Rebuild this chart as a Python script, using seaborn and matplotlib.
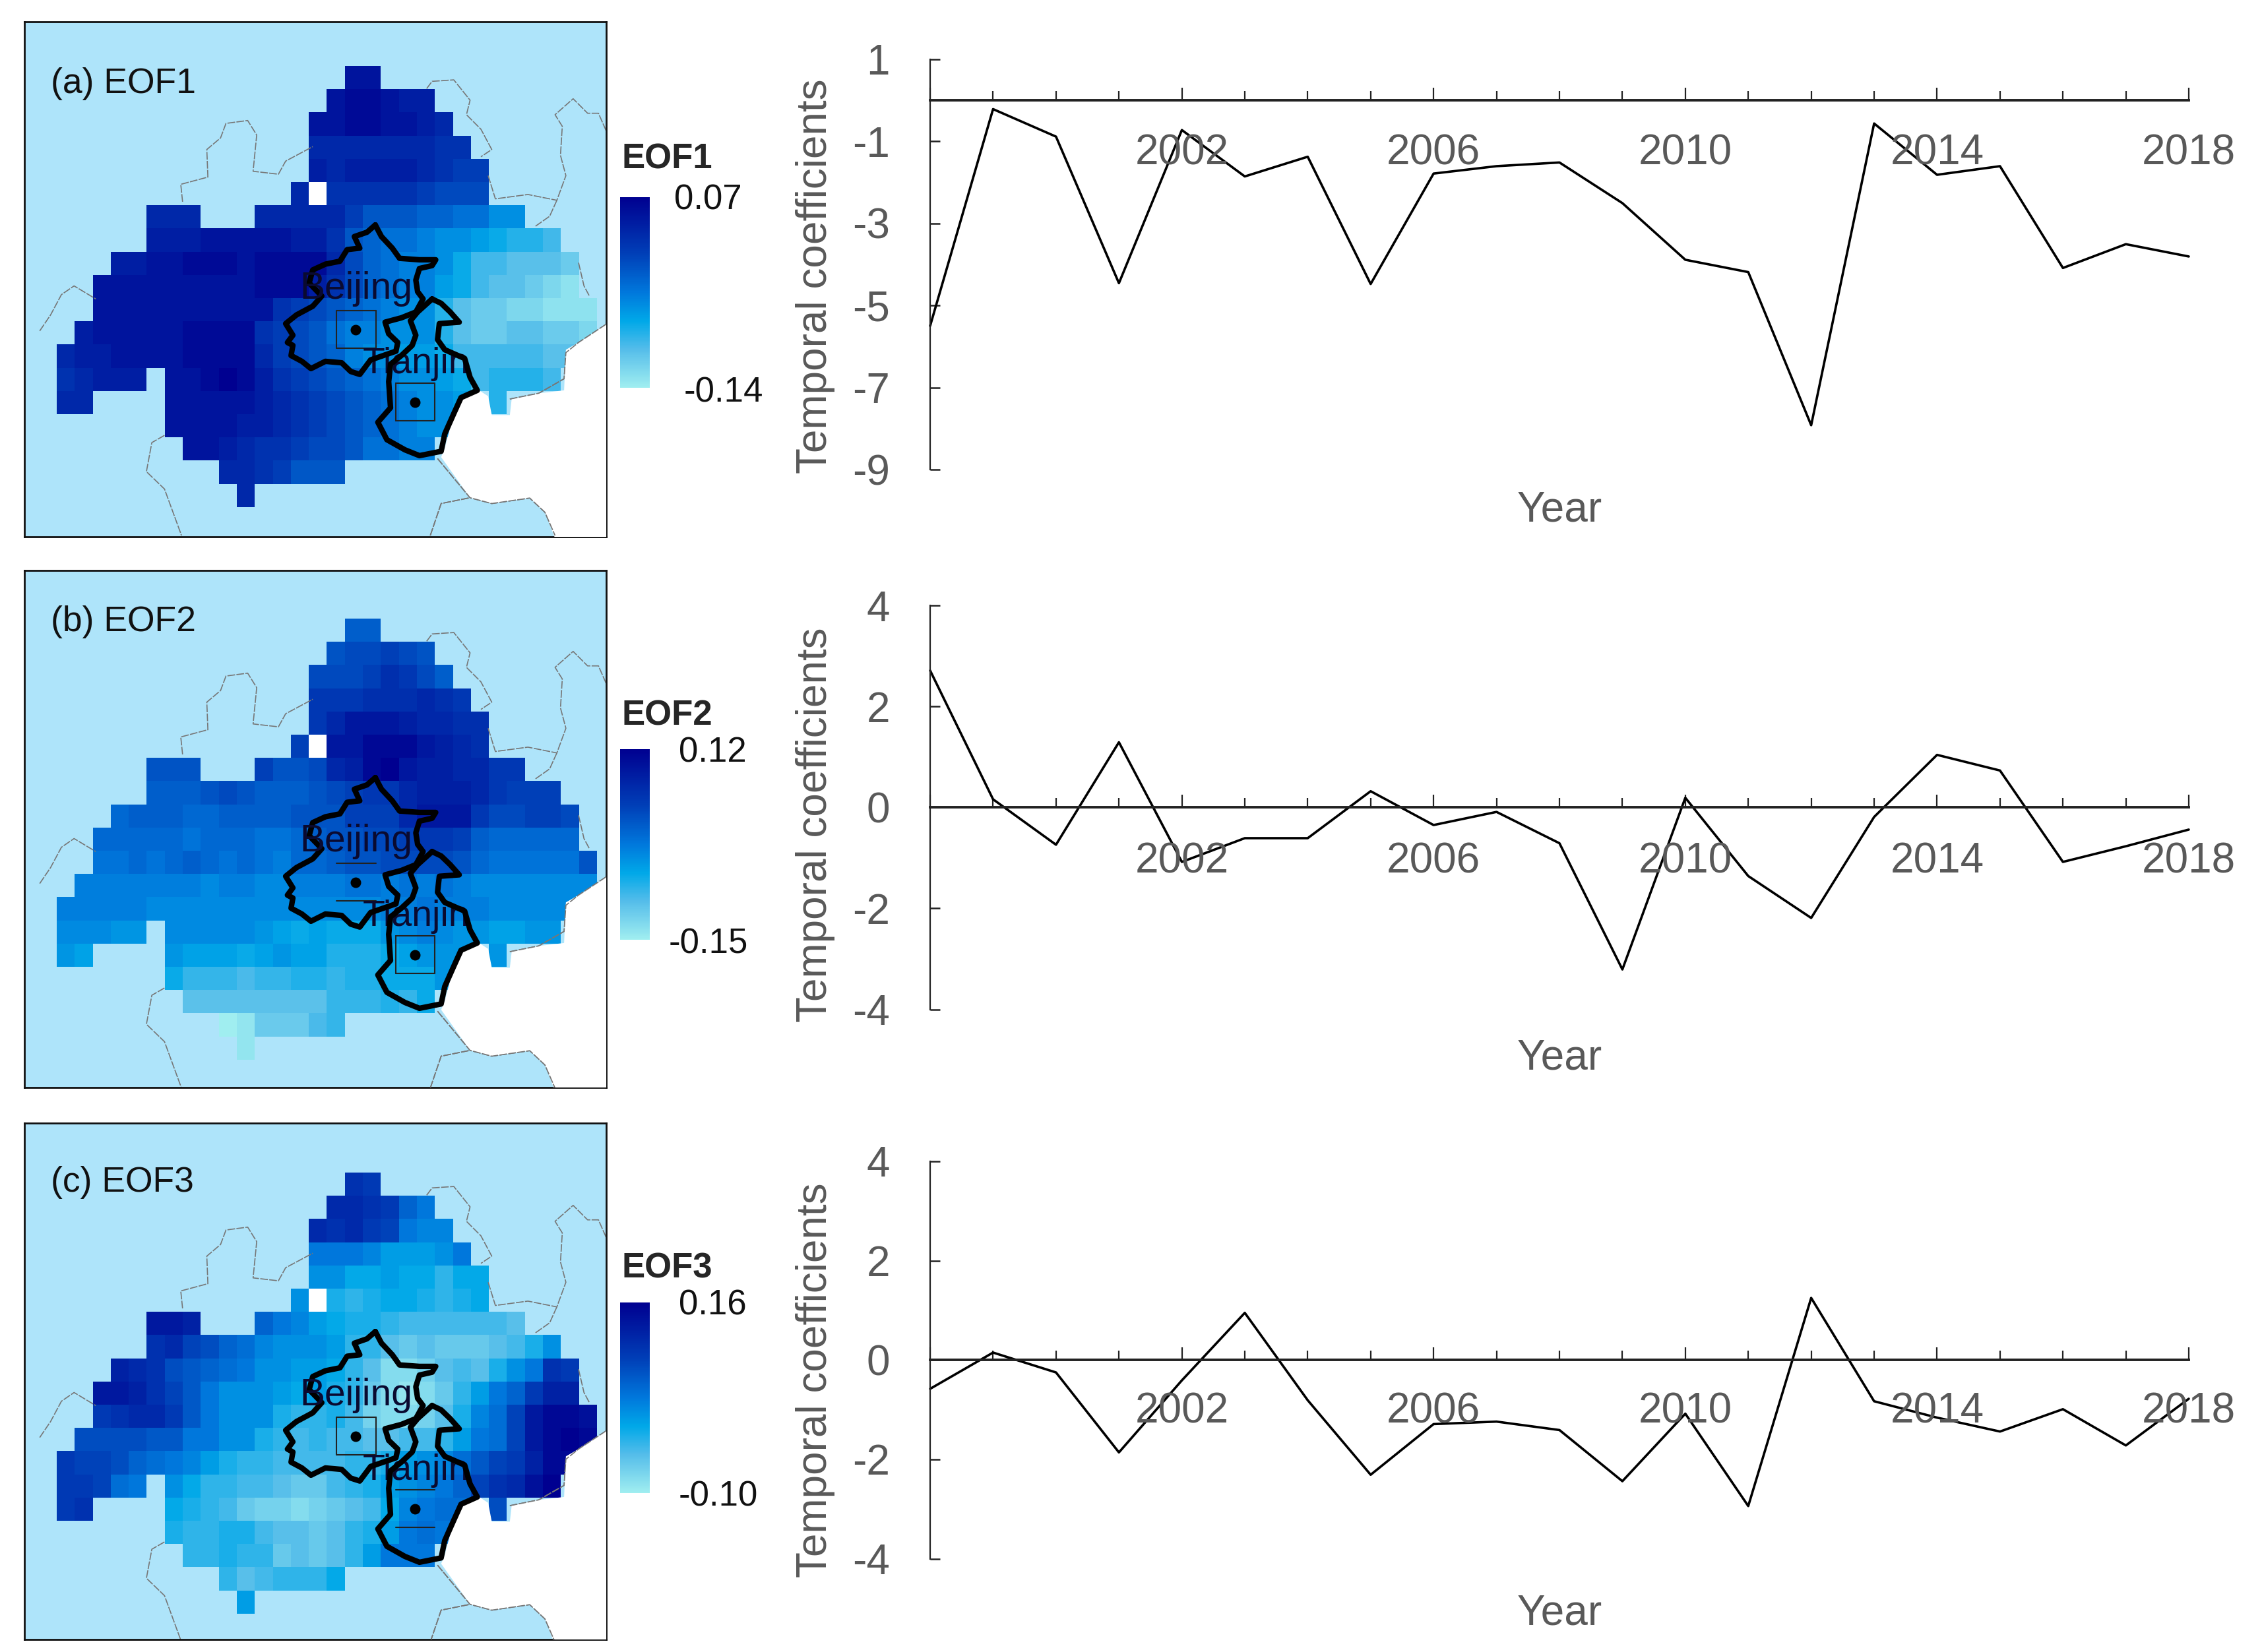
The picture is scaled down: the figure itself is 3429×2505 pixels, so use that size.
import numpy as np
import seaborn as sns
import matplotlib.pyplot as plt
from matplotlib.colors import LinearSegmentedColormap
from matplotlib.patches import Rectangle

W, H = 3430, 2505

# Temporal coefficients
years = list(range(1998, 2019))
pc1 = [-5.5, -0.22, -0.89, -4.46, -0.73, -1.86, -1.38, -4.48, -1.79, -1.61, -1.52,
       -2.51, -3.89, -4.19, -7.92, -0.57, -1.82, -1.61, -4.09, -3.51, -3.81]
pc2 = [2.71, 0.16, -0.74, 1.29, -1.08, -0.61, -0.61, 0.32, -0.35, -0.09, -0.71,
       -3.21, 0.19, -1.36, -2.19, -0.19, 1.04, 0.73, -1.08, -0.77, -0.44]
pc3 = [-0.58, 0.15, -0.25, -1.86, -0.41, 0.95, -0.81, -2.31, -1.29, -1.24, -1.41,
       -2.44, -1.08, -2.94, 1.25, -0.83, -1.16, -1.44, -0.99, -1.72, -0.78]

# EOF grids, hundredths, one list per row. First column of every row is in row_start
row_start = [16, 15, 14, 14, 14, 13, 5, 5, 3, 2, 2, 1, 0, 0, 0, 6, 7, 9, 10]
_ = None

eof1 = [
    [5, 5],
    [5, 6, 6, 5, 4, 4],
    [5, 5, 6, 6, 5, 5, 4, 3],
    [3, 3, 3, 3, 3, 3, 3, 2, 2],
    [4, 3, 4, 4, 4, 4, 3, 2, 1, 1],
    [3, _, 2, 2, 2, 2, 2, 1, 0, 0, 0],
    [3, 3, 3, _, _, _, 3, 3, 3, 3, 3, 1, -1, -1, -1, -2, -2, -3, -3, -5, -5],
    [4, 4, 4, 5, 5, 5, 5, 5, 4, 4, 2, -1, -2, -3, -3, -4, -5, -5, -6, -7, -8, -8, -9],
    [4, 4, 5, 5, 6, 6, 6, 5, 6, 6, 6, 6, 3, 0, -2, -3, -4, -4, -5, -7, -9, -9, -10, -10, -10, -11],
    [5, 5, 5, 5, 5, 5, 5, 5, 5, 6, 6, 6, 4, 2, 0, -2, -3, -4, -4, -6, -7, -9, -10, -10, -11, -12, -13],
    [5, 5, 5, 5, 5, 5, 5, 5, 5, 5, 2, 1, 0, -1, -2, -3, -4, -5, -5, -8, -10, -11, -11, -12, -12, -13, -13, -13],
    [4, 5, 5, 5, 5, 5, 6, 6, 6, 6, 2, 1, 0, -1, -3, -4, -4, -5, -5, -5, -8, -10, -11, -11, -10, -10, -11, -11, -12],
    [3, 4, 4, 5, 5, 5, 5, 6, 6, 6, 6, 3, 1, 0, -1, -2, -4, -5, -5, -6, -6, -7, -9, -9, -9, -9, -9, -10, -10],
    [2, 3, 4, 4, 4, _, 5, 5, 6, 7, 6, 4, 2, 1, 0, -1, -2, -3, -4, -5, -5, -6, -7, -9, -8, -8, -8, -9],
    [3, 3, _, _, _, _, 5, 5, 5, 5, 5, 4, 3, 2, 1, 0, -1, -2, -3, -4, -5, -5, -6, _, -8],
    [5, 5, 5, 5, 4, 4, 3, 2, 1, 0, -1, -2, -3, -4, -5, -5],
    [5, 5, 4, 3, 2, 2, 1, 0, 0, -1, -3, -3, -4, -4],
    [3, 3, 2, 1, -1, -1, -1],
    [3],
]

eof2 = [
    [1, 1],
    [2, 3, 3, 4, 3, 2],
    [3, 3, 3, 4, 6, 5, 3, 1],
    [5, 5, 5, 6, 6, 6, 7, 6, 5],
    [5, 7, 9, 9, 9, 8, 7, 7, 6, 6],
    [4, _, 9, 9, 11, 11, 11, 9, 8, 7, 6],
    [2, 2, 2, _, _, _, 4, 2, 2, 3, 7, 8, 11, 12, 9, 8, 8, 7, 7, 5, 5],
    [1, 1, 1, 2, 3, 2, 1, 1, 1, 2, 3, 4, 5, 5, 7, 8, 8, 8, 7, 5, 4, 4, 4],
    [0, 1, 1, 1, 0, 0, 1, 1, 1, 1, 2, 2, 2, 4, 4, 4, 7, 9, 9, 9, 5, 3, 3, 4, 4, 3],
    [0, 0, 0, 0, 0, -1, 0, 0, 0, -1, -1, 0, 1, 2, 2, 3, 3, 4, 5, 5, 4, 1, 0, 0, 0, 0, 0],
    [-1, -1, 0, -1, 0, 1, 0, -1, 0, -1, -2, 0, 0, 1, 2, 2, 3, 3, 3, 3, 2, 0, -1, -1, -1, -1, -1, 2],
    [-2, -2, -2, -2, -2, -2, -2, -3, -2, -2, -3, -3, -2, -2, -2, -1, -1, -2, -1, -2, -1, -2, -3, -3, -3, -3, -3, -3, -3],
    [-2, -2, -2, -2, -2, -3, -3, -3, -3, -3, -3, -3, -3, -3, -3, -3, -3, -3, -2, -2, -1, -2, -2, -2, -3, -3, -3, -3, -3],
    [-3, -3, -3, -4, -4, _, -3, -3, -3, -3, -3, -4, -5, -6, -5, -6, -6, -6, -4, -3, -2, -3, -4, -4, -5, -5, -4, -4],
    [-4, -5, _, _, _, _, -4, -5, -5, -5, -6, -5, -4, -5, -5, -7, -7, -7, -6, -5, -4, -4, -4, _, -4],
    [-6, -8, -8, -8, -9, -8, -8, -7, -7, -8, -7, -7, -6, -6, -6, -4],
    [-10, -10, -10, -10, -10, -10, -10, -10, -8, -8, -8, -7, -8, -6],
    [-15, -14, -11, -11, -11, -9, -8],
    [-14],
]

eof3 = [
    [10, 9],
    [11, 11, 10, 9, 5, 3],
    [11, 10, 11, 9, 8, 3, 2, 2],
    [3, 3, 3, 2, 0, 0, 0, 1, 3],
    [1, 1, -1, -1, 0, -1, -1, -3, -1, -1],
    [1, _, -2, -3, -2, -1, -1, -2, -3, -2, -1],
    [13, 13, 12, _, _, _, 5, 3, 2, 0, -1, -2, -2, -3, -4, -4, -4, -4, -4, -4, -5],
    [10, 11, 8, 7, 5, 4, 2, 1, 1, 1, 0, -3, -3, -5, -6, -5, -6, -6, -6, -5, -4, -2, 1],
    [12, 11, 10, 7, 6, 5, 4, 3, 1, 1, 0, 0, -1, -3, -5, -8, -8, -7, -5, -4, -5, -2, 1, 3, 10, 9],
    [13, 13, 12, 10, 8, 6, 3, 1, 1, 1, 0, -1, 0, -2, -3, -6, -8, -9, -8, -6, -3, 0, 3, 5, 9, 12, 12],
    [9, 10, 11, 11, 9, 6, 3, 1, 1, 1, -2, -3, -3, -2, -4, -7, -8, -8, -7, -5, -2, 2, 4, 8, 13, 15, 15, 14],
    [7, 7, 7, 7, 6, 6, 3, 3, 1, 1, -2, -3, -4, -3, -4, -4, -5, -5, -4, -4, -3, 0, 3, 4, 8, 13, 15, 16, 15],
    [9, 8, 8, 7, 5, 4, 3, 2, 0, -2, -3, -3, -4, -4, -4, -4, -3, -3, -2, 0, 1, 2, 4, 6, 8, 9, 12, 15, 15],
    [9, 9, 8, 4, 3, _, 1, -1, -3, -3, -4, -4, -5, -6, -6, -4, -3, -2, 0, 1, 2, 3, 5, 8, 10, 11, 14, 16],
    [9, 10, _, _, _, _, -1, -2, -3, -4, -6, -7, -7, -8, -7, -6, -5, -4, -1, 2, 3, 4, 4, _, 7],
    [-2, -3, -3, -2, -2, -4, -5, -5, -6, -5, -3, -2, 0, 3, 4, 3],
    [-3, -3, -2, -3, -3, -6, -5, -6, -5, -3, 0, 3, 3, 3],
    [-3, -5, -4, -3, -3, -3, -1],
    [0],
]

eof_ranges = [(-0.14, 0.07), (-0.15, 0.12), (-0.10, 0.16)]
eof_names = ['EOF1', 'EOF2', 'EOF3']
panel_titles = ['(a) EOF1', '(b) EOF2', '(c) EOF3']

# Outlines, in pixels of one crop (see to_grid)
beijing = [(928, 570), (945, 610), (975, 650), (995, 685), (1050, 690), (1095, 690), (1085, 710), (1050, 720),
           (1040, 760), (1045, 800), (1060, 825), (1040, 870), (1000, 890), (955, 905), (965, 945), (990, 975),
           (985, 1005), (950, 1020), (915, 1035), (885, 1085), (860, 1075), (835, 1045), (790, 1040), (750, 1065),
           (725, 1040), (695, 1020), (700, 985), (685, 975), (700, 950), (680, 910), (710, 880), (755, 850),
           (780, 815), (745, 770), (755, 725), (790, 705), (830, 695), (850, 655), (885, 650), (870, 610),
           (905, 595), (928, 570)]
tianjin = [(1085, 825), (1110, 840), (1135, 870), (1160, 905), (1105, 910), (1100, 965), (1120, 1000), (1175, 1030),
           (1190, 1095), (1210, 1140), (1165, 1165), (1145, 1220), (1120, 1290), (1110, 1350), (1050, 1365),
           (1010, 1345), (960, 1310), (935, 1250), (970, 1200), (965, 1110), (970, 1050), (1000, 1020), (1030, 985),
           (1040, 950), (1025, 900), (1045, 870), (1085, 825)]
sea = [(1575, 905), (1490, 975), (1455, 1000), (1450, 1140), (1380, 1150), (1305, 1170), (1300, 1225), (1250, 1225),
       (1240, 1160), (1215, 1140), (1165, 1165), (1145, 1220), (1120, 1340), (1110, 1370), (1150, 1440), (1190, 1510),
       (1250, 1530), (1355, 1511), (1397, 1560), (1425, 1650), (1575, 1650)]
borders = [
    [(0, 935), (30, 880), (60, 810), (95, 780), (155, 825)],
    [(395, 490), (390, 430), (465, 405), (462, 310), (500, 270), (515, 220), (575, 210), (600, 260), (590, 385),
     (660, 395), (680, 350), (755, 300)],
    [(1070, 100), (1085, 75), (1145, 70), (1190, 140), (1180, 190), (1220, 240), (1250, 310), (1220, 335)],
    [(1240, 400), (1260, 480), (1350, 465), (1430, 485), (1455, 400), (1440, 330), (1445, 230), (1425, 190),
     (1475, 135), (1515, 185), (1545, 185), (1575, 270)],
    [(1430, 485), (1410, 540), (1370, 575)],
    [(1490, 700), (1505, 780), (1520, 815)],
    [(345, 1295), (310, 1320), (295, 1420), (345, 1480), (392, 1640)],
    [(1100, 1375), (1150, 1450), (1190, 1510), (1250, 1530), (1355, 1511), (1397, 1560), (1425, 1640)],
    [(1080, 1640), (1110, 1530), (1190, 1510)],
    [(1300, 1170), (1380, 1150), (1450, 1100), (1455, 1010), (1490, 975), (1575, 905)],
]
beijing_box = [(820, 865), (930, 995)]
tianjin_box = [(985, 1115), (1092, 1245)]

# Axes rectangles in pixels: left, top, right, bottom
map_frames = [(37, 33, 919, 814), (37, 865, 919, 1649), (37, 1703, 919, 2486)]
grid_tops = [100, 938, 1778]
grid_left, cell_w, cell_h = 86, 27.3, 35.2
cbar_boxes = [(940, 299, 985, 588), (940, 1136, 985, 1425), (940, 1975, 985, 2264)]
cbar_title_y = [242, 1085, 1924]
cbar_hi = [(1022, 304), (1029, 1141), (1029, 1979)]
cbar_lo = [(1037, 596), (1014, 1432), (1029, 2270)]
title_y = [127, 943, 1793]
# which sides of the city boxes survive in each panel: (beijing, tianjin)
box_full = [(True, True), (False, True), (True, False)]

line_boxes = [(1410, 89.5, 3318, 712), (1410, 918, 3318, 1530.5), (1410, 1761, 3318, 2363.5)]
line_series = [pc1, pc2, pc3]
y_ranges = [(-9, 1), (-4, 4), (-4, 4)]
y_ticks = [[1, -1, -3, -5, -7, -9], [4, 2, 0, -2, -4], [4, 2, 0, -2, -4]]
ylabel_y = [419, 1251, 2093]
year_y = [774, 1604, 2446]
xtick_label_y = [232, 1306, 2140]
major_years = [1998, 2002, 2006, 2010, 2014, 2018]
grey = '#595959'

sns.set_theme(style='white')
plt.rcParams['font.family'] = ['Liberation Sans', 'DejaVu Sans']
plt.rcParams['axes.unicode_minus'] = False

cmap = LinearSegmentedColormap.from_list('eof', [(0, '#A0EEF0'), (0.2, '#55BDEA'), (0.35, '#00A8E8'), (0.5, '#0078DC'),
                                                 (0.7, '#0040B8'), (1, '#000090')])


def add_axes(fig, box):
    return fig.add_axes([box[0] / W, 1 - box[3] / H, (box[2] - box[0]) / W, (box[3] - box[1]) / H])


def to_grid(pts):
    return [(x - 47) / 49.8 for x, y in pts], [(y - 22) / 80 for x, y in pts]


def build_grid(rows):
    grid = np.full((19, 30), np.nan)
    for r, vals in enumerate(rows):
        for i, v in enumerate(vals):
            if v is not None:
                grid[r, row_start[r] + i] = v / 100
    return grid


def draw_box(ax, box, full):
    xs, ys = to_grid(box)
    ax.plot([xs[0], xs[1]], [ys[0], ys[0]], color='#222222', lw=1.5)
    ax.plot([xs[0], xs[1]], [ys[1], ys[1]], color='#222222', lw=1.5)
    if full:
        ax.plot([xs[0], xs[0]], ys, color='#222222', lw=1.5)
        ax.plot([xs[1], xs[1]], ys, color='#222222', lw=1.5)


fig = plt.figure(figsize=(W / 100, H / 100), dpi=100, facecolor='white')

for i, rows in enumerate([eof1, eof2, eof3]):
    frame = map_frames[i]
    ax = add_axes(fig, frame)
    ax.set_facecolor('#AEE4FA')
    sns.heatmap(build_grid(rows), ax=ax, cmap=cmap, vmin=eof_ranges[i][0], vmax=eof_ranges[i][1],
                cbar=False, xticklabels=False, yticklabels=False)
    ax.set_xlim((frame[0] - grid_left) / cell_w, (frame[2] - grid_left) / cell_w)
    ax.set_ylim((frame[3] - grid_tops[i]) / cell_h, (frame[1] - grid_tops[i]) / cell_h)
    ax.set_aspect('auto')
    for s in ax.spines.values():
        s.set_visible(True)
        s.set_color('#111111')
        s.set_linewidth(2)

    # the one empty cell in the north is white
    ax.add_patch(Rectangle((14, 5), 1, 1, facecolor='white', edgecolor='none', zorder=1.5))

    for line in borders:
        xs, ys = to_grid(line)
        ax.plot(xs, ys, color='#777777', lw=1.2, ls=(0, (7, 1.2)), zorder=2)
    xs, ys = to_grid(sea)
    ax.fill(xs, ys, color='white', lw=0, zorder=3)
    for line in borders[7:10]:
        xs, ys = to_grid(line)
        ax.plot(xs, ys, color='#777777', lw=1.2, ls=(0, (7, 1.2)), zorder=3)

    draw_box(ax, beijing_box, box_full[i][0])
    draw_box(ax, tianjin_box, box_full[i][1])
    for outline in [beijing, tianjin]:
        xs, ys = to_grid(outline)
        ax.plot(xs, ys, color='black', lw=6, solid_joinstyle='round', zorder=5)
    bx, by = to_grid([(873, 932), (1037, 1180)])
    ax.scatter(bx, by, color='black', s=110, zorder=6)
    tx, ty = to_grid([(875, 790), (1040, 1050)])
    ax.text(tx[0], ty[0], 'Beijing', fontsize=41, color='#0a0a30', ha='center', va='center', zorder=7)
    ax.text(tx[1], ty[1], 'Tianjin', fontsize=40, color='#0a0a30', ha='center', va='center', zorder=4)
    fig.text(77 / W, 1 - title_y[i] / H, panel_titles[i], fontsize=38.5, color='#111111', ha='left', va='center')

    # colour bar
    cax = add_axes(fig, cbar_boxes[i])
    cb = fig.colorbar(ax.collections[0], cax=cax)
    cb.outline.set_visible(False)
    cb.set_ticks([])
    fig.text(943 / W, 1 - cbar_title_y[i] / H, eof_names[i], fontsize=38, fontweight='bold', ha='left', va='center')
    fig.text(cbar_hi[i][0] / W, 1 - cbar_hi[i][1] / H, '%.2f' % eof_ranges[i][1], fontsize=38, color='#111111',
             ha='left', va='center')
    fig.text(cbar_lo[i][0] / W, 1 - cbar_lo[i][1] / H, '%.2f' % eof_ranges[i][0], fontsize=38, color='#111111',
             ha='left', va='center')

    # temporal coefficients
    box = line_boxes[i]
    lax = add_axes(fig, box)
    sns.lineplot(x=years, y=line_series[i], color='black', lw=2.6, ax=lax, clip_on=False)
    lax.set_xlim(1998, 2018)
    lax.set_ylim(*y_ranges[i])
    sns.despine(ax=lax)
    lax.spines['bottom'].set_position(('data', 0))
    lax.spines['bottom'].set_linewidth(2.8)
    lax.spines['bottom'].set_color('#222222')
    lax.spines['left'].set_linewidth(1.6)
    lax.spines['left'].set_color('#222222')
    lax.set_xticks(major_years)
    lax.set_xticks(years, minor=True)
    lax.set_xticklabels([])
    lax.tick_params(axis='x', which='major', direction='in', length=14, width=1.6, color='#222222', bottom=True)
    lax.tick_params(axis='x', which='minor', direction='in', length=10, width=1.6, color='#222222', bottom=True)
    lax.set_yticks(y_ticks[i])
    lax.tick_params(axis='y', direction='in', length=11, width=1.8, color='#222222', pad=44,
                    labelsize=46, labelcolor=grey, left=True)
    for yr in major_years[1:]:
        px = box[0] + (yr - 1998) / 20 * (box[2] - box[0])
        fig.text(px / W, 1 - xtick_label_y[i] / H, str(yr), fontsize=46, color=grey, ha='center', va='center')
    fig.text(1236 / W, 1 - ylabel_y[i] / H, 'Temporal coefficients', fontsize=46, color=grey, rotation=90,
             ha='center', va='center')
    fig.text(2364 / W, 1 - year_y[i] / H, 'Year', fontsize=46, color=grey, ha='center', va='center')

plt.savefig('out.png', dpi=100)
